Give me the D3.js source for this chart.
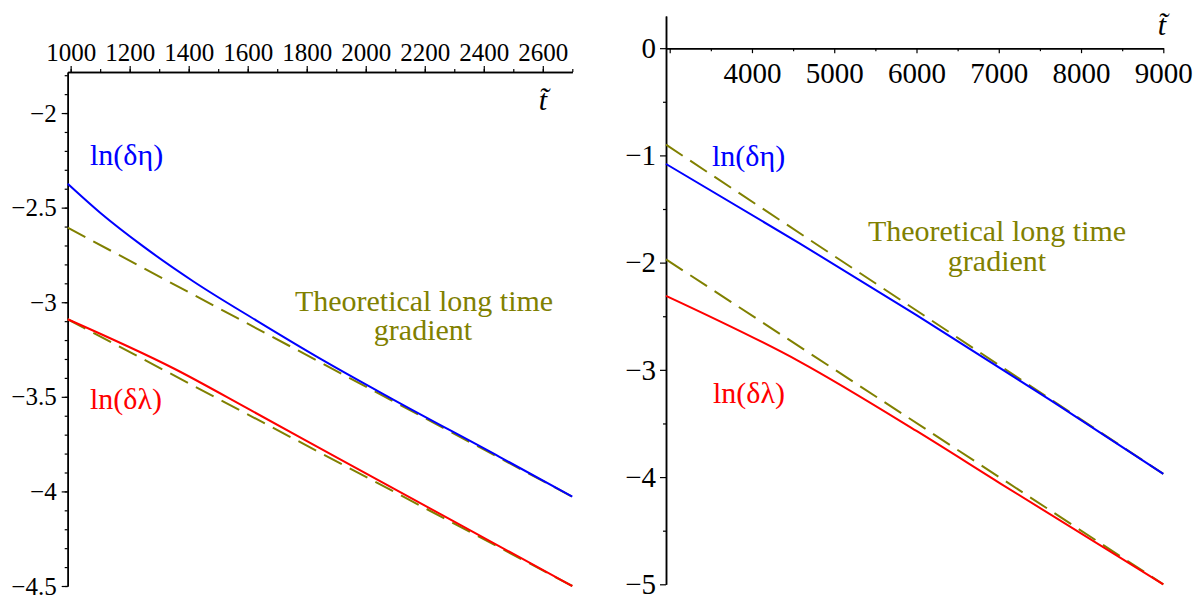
<!DOCTYPE html>
<html>
<head>
<meta charset="utf-8">
<script src="https://cdn.jsdelivr.net/npm/d3@7"></script>
<style>
  body { margin: 0; background: #fff; }
  svg { display: block; font-family: "Liberation Serif", "Times New Roman", serif; }
  .domain { stroke: #000; stroke-width: 1.5; }
  .tick line { stroke: #000; stroke-width: 1.2; }
</style>
</head>
<body>
<svg id="chart" width="1199" height="597"></svg>
<script>
// left panel, t from 990 to 2700
const LEFT_ETA_T = [990, 1100, 1246, 1415, 1630, 1850, 2081, 2453, 2700];
const LEFT_ETA = [-2.374, -2.527, -2.705, -2.889, -3.097, -3.302, -3.504, -3.817, -4.028];
const LEFT_LAMBDA_T = [990, 1353, 1607, 1912, 2300, 2700];
const LEFT_LAMBDA = [-3.09, -3.353, -3.568, -3.829, -4.16, -4.5];
const LEFT_GRAD_T = [990, 2700];
const LEFT_GRAD_UPPER = [-2.606, -4.028];
const LEFT_GRAD_LOWER = [-3.09, -4.5];
const LEFT_X_TICKS = [1000, 1200, 1400, 1600, 1800, 2000, 2200, 2400, 2600];
const LEFT_Y_TICKS = [-2, -2.5, -3, -3.5, -4, -4.5];

// right panel, t from 2955 to 9000
const RIGHT_ETA_T = [2955, 4579, 6000, 7623, 9000];
const RIGHT_ETA = [-1.08, -1.82, -2.49, -3.28, -3.97];
const RIGHT_LAMBDA_T = [2955, 4579, 6000, 7016, 9000];
const RIGHT_LAMBDA = [-2.31, -2.923, -3.57, -4.058, -5.0];
const RIGHT_GRAD_T = [2955, 9000];
const RIGHT_GRAD_UPPER = [-0.90, -3.97];
const RIGHT_GRAD_LOWER = [-1.97, -5.0];
const RIGHT_X_TICKS = [4000, 5000, 6000, 7000, 8000, 9000];
const RIGHT_Y_TICKS = [0, -1, -2, -3, -4, -5];

const ETA_LABEL = 'ln(δη)';
const LAMBDA_LABEL = 'ln(δλ)';
const GRAD_LABEL = ['Theoretical long time', 'gradient'];

const BLUE = '#0000ff', RED = '#ff0000', OLIVE = '#808000';

const svg = d3.select('#chart');
const fmt = d3.format('~g');

function zip(ts, vs) {
    return ts.map((t, i) => ({t, v: vs[i]}));
}

// d3 axes put sans-serif on their group; drop it so the serif font is inherited
function axis(g, transform, ax, size) {
    const a = g.append('g')
        .attr('transform', transform)
        .call(ax);
    a.attr('font-family', null).attr('font-size', size || null);
    a.selectAll('text').attr('fill', '#000');
    return a;
}

function drawLines(g, x, y, series) {
    const line = d3.line()
        .curve(d3.curveMonotoneX)
        .x(d => x(d.t))
        .y(d => y(d.v));

    for (const s of series) {
        g.append('path')
            .attr('d', line(s.data))
            .attr('fill', 'none')
            .attr('stroke', s.color)
            .attr('stroke-width', 2)
            .attr('stroke-dasharray', s.dash || null);
    }
}

function drawText(g, items) {
    for (const it of items) {
        const lines = Array.isArray(it.text) ? it.text : [it.text];
        const t = g.append('text')
            .attr('y', it.y)
            .attr('fill', it.color)
            .attr('font-size', it.size)
            .attr('text-anchor', it.anchor || 'start')
            .attr('font-style', it.italic ? 'italic' : null);
        lines.forEach((s, i) => {
            t.append('tspan')
                .attr('x', Array.isArray(it.x) ? it.x[i] : it.x)
                .attr('dy', i ? it.lineHeight : 0)
                .text(s);
        });
    }
}

// ---- left panel ----
function renderLeft() {
    const x = d3.scaleLinear().domain([990, 2700]).range([67.7, 572.3]);
    const y = d3.scaleLinear().domain([-4.5, -1.783]).range([586, 72]);
    const g = svg.append('g');
    const top = `translate(0,${y(-1.783)})`;
    const left = `translate(${x(990)},0)`;

    // minor ticks first, then the labelled ones
    axis(g, top, d3.axisTop(x).tickValues(d3.range(1000, 2701, 100)).tickSize(3).tickSizeOuter(0).tickFormat(''));
    axis(g, top, d3.axisTop(x).tickValues(LEFT_X_TICKS).tickSize(6).tickPadding(5).tickSizeOuter(0)
        .tickFormat(d3.format('d')), 25);

    axis(g, left, d3.axisLeft(y).tickValues(d3.range(-45, -17).map(d => d / 10)).tickSize(3).tickSizeOuter(0).tickFormat(''));
    axis(g, left, d3.axisLeft(y).tickValues(LEFT_Y_TICKS).tickSize(6).tickPadding(5).tickSizeOuter(0).tickFormat(fmt), 25);

    drawLines(g, x, y, [
        {data: zip(LEFT_GRAD_T, LEFT_GRAD_UPPER), color: OLIVE, dash: '20,9'},
        {data: zip(LEFT_GRAD_T, LEFT_GRAD_LOWER), color: OLIVE, dash: '20,9'},
        {data: zip(LEFT_ETA_T, LEFT_ETA), color: BLUE},
        {data: zip(LEFT_LAMBDA_T, LEFT_LAMBDA), color: RED}
    ]);

    drawText(g, [
        {text: ETA_LABEL, x: 90, y: 165, color: BLUE, size: 30},
        {text: LAMBDA_LABEL, x: 90, y: 409, color: RED, size: 30},
        {text: GRAD_LABEL, x: [424, 423], y: 311, lineHeight: 29, color: OLIVE, size: 30, anchor: 'middle'},
        {text: 't\u0303', x: 543, y: 110, color: '#000', size: 30, anchor: 'middle', italic: true}
    ]);
}

// ---- right panel ----
function renderRight() {
    const x = d3.scaleLinear().domain([2955, 9000]).range([666, 1163.3]);
    const y = d3.scaleLinear().domain([-5, 0.3]).range([584.3, 16]);
    const g = svg.append('g');
    const bottom = `translate(0,${y(0)})`;
    const left = `translate(${x(2955)},0)`;

    axis(g, bottom, d3.axisBottom(x).tickValues(d3.range(3500, 9000, 1000)).tickSize(3).tickSizeOuter(0).tickFormat(''));
    axis(g, bottom, d3.axisBottom(x).tickValues([3000].concat(RIGHT_X_TICKS)).tickSize(5).tickPadding(9).tickSizeOuter(0)
        .tickFormat(d => d === 3000 ? '' : d), 29);

    axis(g, left, d3.axisLeft(y).tickValues(d3.range(-4.5, 0, 1)).tickSize(3).tickSizeOuter(0).tickFormat(''));
    axis(g, left, d3.axisLeft(y).tickValues(RIGHT_Y_TICKS).tickSize(6).tickPadding(4).tickSizeOuter(0).tickFormat(fmt), 29);

    drawLines(g, x, y, [
        {data: zip(RIGHT_GRAD_T, RIGHT_GRAD_UPPER), color: OLIVE, dash: '20,9'},
        {data: zip(RIGHT_GRAD_T, RIGHT_GRAD_LOWER), color: OLIVE, dash: '20,9'},
        {data: zip(RIGHT_ETA_T, RIGHT_ETA), color: BLUE},
        {data: zip(RIGHT_LAMBDA_T, RIGHT_LAMBDA), color: RED}
    ]);

    drawText(g, [
        {text: ETA_LABEL, x: 712, y: 166, color: BLUE, size: 30},
        {text: LAMBDA_LABEL, x: 713, y: 403, color: RED, size: 30},
        {text: GRAD_LABEL, x: [997, 997], y: 241, lineHeight: 30, color: OLIVE, size: 30, anchor: 'middle'},
        {text: 't\u0303', x: 1162, y: 35, color: '#000', size: 30, anchor: 'middle', italic: true}
    ]);
}

renderLeft();
renderRight();
</script>
</body>
</html>
